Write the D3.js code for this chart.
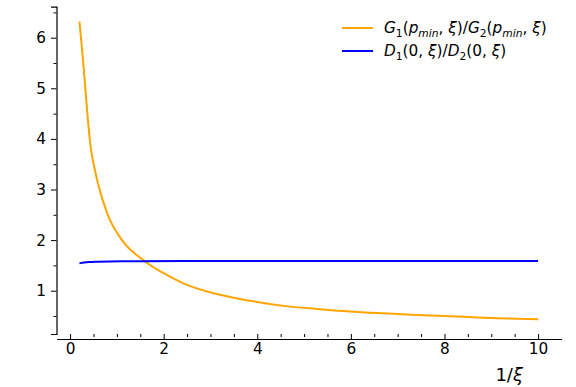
<!DOCTYPE html>
<html><head><meta charset="utf-8">
<script src="https://cdn.jsdelivr.net/npm/d3@7"></script>
<style>body{margin:0;background:#fff}svg{display:block}text{font-family:"DejaVu Sans",sans-serif}</style>
</head><body><svg id="c" width="576" height="387"></svg>
<script>
const gX = [0.2,0.252,0.314,0.37,0.442,0.5,0.583,0.797,1.118,1.581,2.009,2.42,3.13,3.85,4.56,5.27,5.98,6.69,7.41,8.12,8.83,9.54,10];
const gY = [6.32,5.81,5.15,4.49,3.83,3.52,3.17,2.52,1.99,1.593,1.34,1.146,0.934,0.80,0.70,0.64,0.59,0.553,0.52,0.494,0.466,0.446,0.434];
const dX = [0.2,0.3,0.4,0.6,0.85,1.5,2.5,4,6,8,10];
const dY = [1.54,1.555,1.565,1.572,1.577,1.582,1.585,1.586,1.587,1.587,1.587];
const xTicks = [0,2,4,6,8,10];
const yTicks = [1,2,3,4,5,6];

const svg = d3.select("#c");
const x = d3.scaleLinear().domain([-0.29,10.49]).range([56.5,561]);
const y = d3.scaleLinear().domain([0.144,6.613]).range([334,6.7]);

const xAxis = d3.axisBottom(x).tickValues(xTicks).tickSize(5).tickPadding(4).tickFormat(d3.format("d"));
const xMinor = d3.axisBottom(x).tickValues(d3.range(0,10.01,0.5).filter(v=>v%2!==0)).tickSize(3).tickFormat("");
const yAxis = d3.axisLeft(y).tickValues(yTicks).tickSize(5.5).tickPadding(5).tickFormat(d3.format("d"));
const yMinor = d3.axisLeft(y).tickValues(d3.range(0.5,6.51,0.5).filter(v=>v%1!==0)).tickSize(3).tickFormat("");

function style(g){
 g.attr("font-size",null).attr("font-family",null);
 g.select(".domain").attr("stroke","#000").attr("stroke-width",1.2);
 g.selectAll(".tick line").attr("stroke","#000").attr("stroke-width",1);
 g.selectAll(".tick text").style("font-size","15.3px").attr("fill","#000").style("font-family","DejaVu Sans");}
svg.append("g").attr("transform","translate(0,334)").call(xMinor).call(style).select(".domain").remove();
svg.append("g").attr("transform","translate(0,334)").call(xAxis).call(style);
svg.append("g").attr("transform","translate(56.5,0)").call(yMinor).call(style).select(".domain").remove();
svg.append("g").attr("transform","translate(56.5,0)").call(yAxis).call(style);
svg.selectAll(".domain").attr("d", function(){return d3.select(this).attr("d").replace(/V0/,"");});

const line = d3.line().x(d=>x(d[0])).y(d=>y(d[1])).curve(d3.curveMonotoneX);
svg.append("path").datum(gX.map((v,i)=>[v,gY[i]])).attr("d",line).attr("fill","none").attr("stroke","#FFA500").attr("stroke-width",2);
svg.append("path").datum(dX.map((v,i)=>[v,dY[i]])).attr("d",line).attr("fill","none").attr("stroke","#0000FF").attr("stroke-width",2);

svg.append("text").attr("x",523).attr("y",381).attr("text-anchor","end").style("font-size","18px").attr("fill","#000")
  .call(t=>{t.append("tspan").text("1/");t.append("tspan").attr("font-style","italic").text("ξ");});

// legend
function mt(t, parts){
  parts.forEach(p=>{
    const s=t.append("tspan").text(p[0]);
    if(p[1]==="i") s.attr("font-style","italic");
    if(p[2]==="sub"){s.style("font-size","10.7px").attr("dy",3.5);}
    if(p[2]==="up"){s.attr("dy",-3.5);}
  });
}
const leg=[["#FFA500",28,[["G","i"],["1","n","sub"],["(","n","up"],["p","i"],["min","i","sub"],[", ","n","up"],["ξ","i"],[")/","n"],["G","i"],["2","n","sub"],["(","n","up"],["p","i"],["min","i","sub"],[", ","n","up"],["ξ","i"],[")","n"]]],
 ["#0000FF",51,[["D","i"],["1","n","sub"],["(0, ","n","up"],["ξ","i"],[")/","n"],["D","i"],["2","n","sub"],["(0, ","n","up"],["ξ","i"],[")","n"]]]];
leg.forEach(l=>{
 svg.append("line").attr("x1",342).attr("x2",373).attr("y1",l[1]).attr("y2",l[1]).attr("stroke",l[0]).attr("stroke-width",2);
 const t=svg.append("text").attr("x",384).attr("y",l[1]+5).style("font-size","15.3px").attr("fill","#000");
 mt(t,l[2]);
});
</script></body></html>
